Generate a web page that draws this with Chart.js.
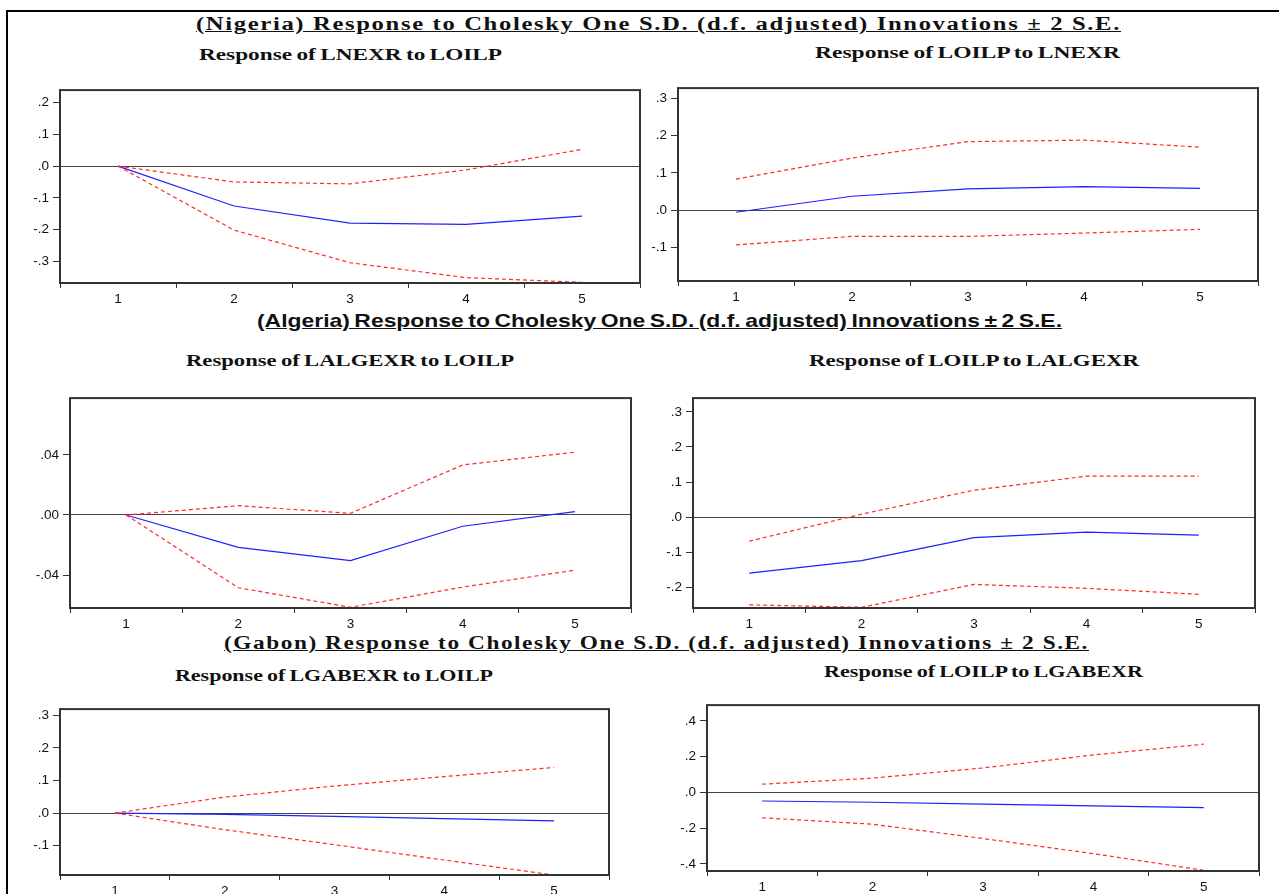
<!DOCTYPE html>
<html>
<head>
<meta charset="utf-8">
<script src="https://cdn.jsdelivr.net/npm/chart.js@4"></script>
<style>
  body { margin: 0; background: #fff; width: 1279px; height: 894px; overflow: hidden; position: relative; }
  #frame { position: absolute; left: 6px; top: 10px; width: 1300px; height: 900px; border: 2px solid #000; }
  canvas { position: absolute; }
  .title, .sub { position: absolute; white-space: nowrap; font-weight: bold; color: #111; line-height: 1; transform-origin: left top; }
  .title { text-decoration: underline; }
  .serif { font-family: "Liberation Serif", "Times New Roman", serif; font-size: 18px; letter-spacing: 1.2px; }
  .sans { font-family: "Liberation Sans", Arial, sans-serif; font-size: 18.5px; word-spacing: -1.5px; }
  .sub { font-family: "Liberation Serif", "Times New Roman", serif; font-size: 16px; word-spacing: -1px; }
</style>
</head>
<body>
<div id="frame"></div>

<div class="title serif" data-x="196" data-y="15" data-w="925">(Nigeria) Response to Cholesky One S.D. (d.f. adjusted) Innovations ± 2 S.E.</div>
<div class="sub" data-x="199" data-y="47" data-w="303">Response of LNEXR to LOILP</div>
<div class="sub" data-x="815" data-y="45" data-w="305">Response of LOILP to LNEXR</div>

<div class="title sans" data-x="257" data-y="312" data-w="805">(Algeria) Response to Cholesky One S.D. (d.f. adjusted) Innovations ± 2 S.E.</div>
<div class="sub" data-x="186" data-y="353" data-w="328">Response of LALGEXR to LOILP</div>
<div class="sub" data-x="809" data-y="353" data-w="330">Response of LOILP to LALGEXR</div>

<div class="title serif" data-x="224" data-y="634" data-w="865">(Gabon) Response to Cholesky One S.D. (d.f. adjusted) Innovations ± 2 S.E.</div>
<div class="sub" data-x="175" data-y="668" data-w="318">Response of LGABEXR to LOILP</div>
<div class="sub" data-x="824" data-y="664" data-w="319">Response of LOILP to LGABEXR</div>

<script>
const periods = ["1", "2", "3", "4", "5"];

// Nigeria
const nigExrMid = [0, -0.126, -0.18, -0.184, -0.158];
const nigExrUp = [0, -0.05, -0.056, -0.012, 0.053];
const nigExrLo = [0, -0.202, -0.305, -0.352, -0.367];
const nigExrTicks = [0.2, 0.1, 0, -0.1, -0.2, -0.3];

const nigOilMid = [-0.006, 0.037, 0.057, 0.063, 0.058];
const nigOilUp = [0.083, 0.14, 0.184, 0.188, 0.169];
const nigOilLo = [-0.094, -0.071, -0.071, -0.062, -0.052];
const nigOilTicks = [0.3, 0.2, 0.1, 0, -0.1];

// Algeria
const algExrMid = [0, -0.0215, -0.0303, -0.0075, 0.0023];
const algExrUp = [0, 0.0062, 0.0011, 0.0333, 0.0418];
const algExrLo = [0, -0.0484, -0.0614, -0.048, -0.0367];
const algExrTicks = [0.04, 0, -0.04];

const algOilMid = [-0.159, -0.123, -0.058, -0.042, -0.051];
const algOilUp = [-0.068, 0.009, 0.077, 0.117, 0.117];
const algOilLo = [-0.249, -0.256, -0.191, -0.202, -0.219];
const algOilTicks = [0.3, 0.2, 0.1, 0, -0.1, -0.2];

// Gabon
const gabExrMid = [0, -0.004, -0.01, -0.017, -0.024];
const gabExrUp = [0, 0.049, 0.083, 0.112, 0.14];
const gabExrLo = [0, -0.051, -0.097, -0.144, -0.19];
const gabExrTicks = [0.3, 0.2, 0.1, 0, -0.1];

const gabOilMid = [-0.048, -0.055, -0.066, -0.075, -0.085];
const gabOilUp = [0.046, 0.08, 0.137, 0.21, 0.27];
const gabOilLo = [-0.142, -0.178, -0.258, -0.343, -0.436];
const gabOilTicks = [0.4, 0.2, 0, -0.2, -0.4];

// stretch the titles to their widths in the picture
document.querySelectorAll(".title, .sub").forEach(function (el) {
  el.style.left = el.dataset.x + "px";
  el.style.top = el.dataset.y + "px";
  const natural = el.getBoundingClientRect().width;
  el.style.transform = "scaleX(" + (+el.dataset.w / natural) + ")";
});

const boxPlugin = {
  id: "box",
  afterDatasetsDraw(chart) {
    const a = chart.chartArea;
    const ctx = chart.ctx;
    ctx.save();
    ctx.strokeStyle = "#333";
    ctx.lineWidth = 2;
    ctx.strokeRect(a.left, a.top, a.right - a.left, a.bottom - a.top);
    ctx.restore();
  }
};

function fmt(v, dec) {
  if (Math.abs(v) < 1e-9) return dec === 2 ? ".00" : ".0";
  return (v < 0 ? "-" : "") + Math.abs(v).toFixed(dec).replace(/^0/, "");
}

function drawPanel(box, mid, up, lo, ticks, min, max, dec) {
  const c = document.createElement("canvas");
  const w = box.r - box.l + 64;
  const h = box.b - box.t + 34;
  c.width = w;
  c.height = h;
  c.style.left = (box.l - 60) + "px";
  c.style.top = (box.t - 4) + "px";
  document.body.appendChild(c);

  const red = {
    borderColor: "#ff2a2a", borderWidth: 1.2, borderDash: [4, 3],
    pointRadius: 0, tension: 0, fill: false
  };

  new Chart(c.getContext("2d"), {
    type: "line",
    data: {
      labels: periods,
      datasets: [
        Object.assign({ data: up }, red),
        Object.assign({ data: lo }, red),
        { data: mid, borderColor: "#2020ff", borderWidth: 1.2, pointRadius: 0, tension: 0, fill: false }
      ]
    },
    options: {
      responsive: false,
      animation: false,
      layout: { padding: { top: 4, right: 4, left: 0, bottom: 0 } },
      plugins: { legend: { display: false }, tooltip: { enabled: false } },
      scales: {
        x: {
          offset: true,
          afterFit: function (s) { s.height = 30; },
          border: { display: false },
          grid: { offset: true, drawOnChartArea: false, drawTicks: true, tickLength: 5, tickColor: "#333" },
          ticks: { color: "#111", padding: 3, maxRotation: 0, font: { family: "Liberation Sans", size: 13.5 } }
        },
        y: {
          min: min,
          max: max,
          afterFit: function (s) { s.width = 60; },
          afterBuildTicks: function (s) { s.ticks = ticks.map(function (v) { return { value: v }; }); },
          border: { display: false },
          grid: {
            drawTicks: true, tickLength: 7, tickColor: "#333", lineWidth: 1,
            color: function (ctx) { return ctx.tick && Math.abs(ctx.tick.value) < 1e-9 ? "#444" : "rgba(0,0,0,0)"; }
          },
          ticks: {
            color: "#111", padding: 4, font: { family: "Liberation Sans", size: 13.5 },
            callback: function (v) { return fmt(v, dec); }
          }
        }
      }
    },
    plugins: [boxPlugin]
  });
}

drawPanel({ l: 60, t: 82, r: 640, b: 283 }, nigExrMid, nigExrUp, nigExrLo, nigExrTicks, -0.369, 0.24, 1);
drawPanel({ l: 678, t: 80, r: 1258, b: 281 }, nigOilMid, nigOilUp, nigOilLo, nigOilTicks, -0.191, 0.328, 1);
drawPanel({ l: 70, t: 390, r: 631, b: 608 }, algExrMid, algExrUp, algExrLo, algExrTicks, -0.0619, 0.0778, 2);
drawPanel({ l: 693, t: 390, r: 1255, b: 608 }, algOilMid, algOilUp, algOilLo, algOilTicks, -0.258, 0.339, 1);
drawPanel({ l: 60, t: 701, r: 609, b: 875 }, gabExrMid, gabExrUp, gabExrLo, gabExrTicks, -0.19, 0.319, 1);
drawPanel({ l: 707, t: 697, r: 1259, b: 871 }, gabOilMid, gabOilUp, gabOilLo, gabOilTicks, -0.44, 0.489, 1);
</script>
</body>
</html>
